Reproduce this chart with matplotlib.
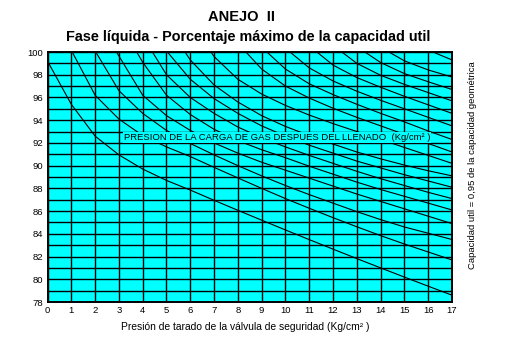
import matplotlib
matplotlib.use('Agg')
import matplotlib.pyplot as plt

# curvas (x = presion de tarado, y = % capacidad util)
c01_x = [0, 1, 2, 3, 4, 5, 6, 7, 8, 9, 10, 11, 12, 13, 14, 15, 16, 17]
c01_y = [99.2, 95.4, 92.6, 90.95, 89.7, 88.7, 87.85, 86.95, 86.07, 85.2, 84.34, 83.49, 82.65, 81.82, 81.0, 80.19, 79.39, 78.6]
c02_x = [1.04, 2, 3, 4, 5, 6, 7, 8, 9, 10, 11, 12, 13, 14, 15, 16, 17]
c02_y = [100, 96.2, 94.1, 92.65, 91.65, 90.8, 89.85, 88.92, 88.0, 87.1, 86.25, 85.42, 84.62, 83.84, 83.1, 82.4, 81.7]
c03_x = [2.03, 3, 4, 5, 6, 7, 8, 9, 10, 11, 12, 13, 14, 15, 16, 17]
c03_y = [100, 96.6, 94.6, 93.1, 91.95, 90.95, 90.0, 89.1, 88.25, 87.45, 86.7, 85.95, 85.25, 84.6, 84.05, 83.5]
c04_x = [2.9, 4, 5, 6, 7, 8, 9, 10, 11, 12, 13, 14, 15, 16, 17]
c04_y = [100, 96.2, 94.4, 93.1, 92.0, 91.1, 90.3, 89.6, 88.9, 88.2, 87.5, 86.85, 86.2, 85.55, 84.9]
c05_x = [3.75, 4, 5, 6, 7, 8, 9, 10, 11, 12, 13, 14, 15, 16, 17]
c05_y = [100, 99.1, 96.2, 94.5, 93.2, 92.2, 91.4, 90.7, 89.95, 89.25, 88.55, 87.9, 87.3, 86.7, 86.1]
c06_x = [4.41, 5, 6, 7, 8, 9, 10, 11, 12, 13, 14, 15, 16, 17]
c06_y = [100, 98.0, 96.0, 94.6, 93.4, 92.45, 91.65, 90.9, 90.2, 89.5, 88.85, 88.25, 87.65, 87.1]
c07_x = [5.04, 6, 7, 8, 9, 10, 11, 12, 13, 14, 15, 16, 17]
c07_y = [100, 97.6, 95.9, 94.6, 93.5, 92.6, 91.8, 91.1, 90.4, 89.8, 89.2, 88.65, 88.1]
c08_x = [5.78, 6, 7, 8, 9, 10, 11, 12, 13, 14, 15, 16, 17]
c08_y = [100, 99.3, 97.1, 95.6, 94.4, 93.45, 92.65, 91.9, 91.2, 90.6, 90.05, 89.55, 89.1]
c09_x = [6.87, 7, 8, 9, 10, 11, 12, 13, 14, 15, 16, 17]
c09_y = [100, 99.6, 97.6, 96.3, 95.3, 94.45, 93.7, 93.0, 92.3, 91.6, 90.9, 90.2]
c10_x = [8.34, 9, 10, 11, 12, 13, 14, 15, 16, 17]
c10_y = [100, 98.5, 97.0, 95.95, 95.05, 94.25, 93.5, 92.75, 91.95, 91.2]
c11_x = [9.22, 10, 11, 12, 13, 14, 15, 16, 17]
c11_y = [100, 98.5, 97.2, 96.25, 95.4, 94.6, 93.85, 93.05, 92.3]
c12_x = [10.19, 11, 12, 13, 14, 15, 16, 17]
c12_y = [100, 98.6, 97.45, 96.55, 95.75, 95.0, 94.25, 93.5]
c13_x = [11.32, 12, 13, 14, 15, 16, 17]
c13_y = [100, 98.85, 97.75, 96.9, 96.1, 95.35, 94.6]
c14_x = [12.37, 13, 14, 15, 16, 17]
c14_y = [100, 99.0, 97.95, 97.15, 96.43, 95.7]
c15_x = [13.34, 14, 15, 16, 17]
c15_y = [100, 99.07, 98.1, 97.38, 96.7]
c16_x = [14.35, 15, 16, 17]
c16_y = [100, 99.22, 98.42, 97.8]
c17_x = [16.2, 17]
c17_y = [100, 99.3]

curves = [(c01_x, c01_y), (c02_x, c02_y), (c03_x, c03_y), (c04_x, c04_y),
          (c05_x, c05_y), (c06_x, c06_y), (c07_x, c07_y), (c08_x, c08_y),
          (c09_x, c09_y), (c10_x, c10_y), (c11_x, c11_y), (c12_x, c12_y),
          (c13_x, c13_y), (c14_x, c14_y), (c15_x, c15_y), (c16_x, c16_y),
          (c17_x, c17_y)]

x_ticks = list(range(0, 18))
y_ticks = list(range(78, 101, 2))
x_grid = list(range(0, 18))
y_grid = list(range(78, 101))

plt.rcParams['font.family'] = ['Liberation Sans', 'DejaVu Sans']

fig = plt.figure(figsize=(5.18, 3.6), dpi=100)
ax = fig.add_axes([0.0917, 0.1611, 0.781, 0.6944])
ax.set_facecolor('#00ffff')

for gx in x_grid:
    ax.axvline(gx, color='black', lw=1.0, zorder=1)
for gy in y_grid:
    ax.axhline(gy, color='black', lw=1.0, zorder=1)

for xs, ys in curves:
    ax.plot(xs, ys, color='black', lw=0.8, zorder=2)

ax.text(3.2, 92.5, 'PRESION DE LA CARGA DE GAS DESPUES DEL LLENADO  (Kg/cm² )',
        fontsize=6.8, ha='left', va='center', zorder=4,
        bbox=dict(facecolor='#00ffff', edgecolor='none', pad=0.6))

ax.set_xlim(0, 17)
ax.set_ylim(78, 100)
ax.set_xticks(x_ticks)
ax.set_yticks(y_ticks)
ax.tick_params(length=0, labelsize=6.8, pad=3)
for sp in ax.spines.values():
    sp.set_linewidth(1.4)

fig.text(0.467, 0.953, 'ANEJO  II', fontsize=10.5, fontweight='bold', ha='center', va='center')
fig.text(0.479, 0.898, 'Fase líquida - Porcentaje máximo de la capacidad util',
         fontsize=10.4, fontweight='bold', ha='center', va='center')
fig.text(0.474, 0.092, 'Presión de tarado de la válvula de seguridad (Kg/cm² )',
         fontsize=7.4, ha='center', va='center')
fig.text(0.913, 0.54, 'Capacidad util = 0,95 de la capacidad geométrica',
         fontsize=6.8, ha='center', va='center', rotation=90)

plt.savefig('out.png', dpi=100)
